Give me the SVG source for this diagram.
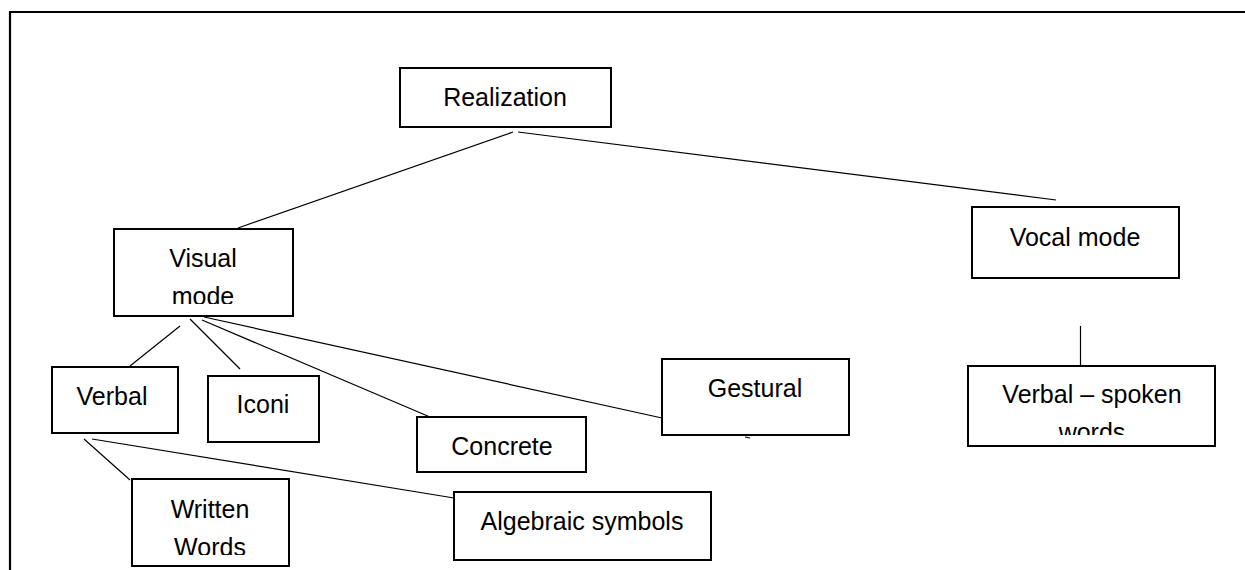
<svg xmlns="http://www.w3.org/2000/svg" width="1245" height="570" viewBox="0 0 1245 570">
  <style>
    .box { fill: #fff; stroke: #000; stroke-width: 2; }
    .lbl { font-family: "Liberation Sans", Arial, sans-serif; font-size: 25px; fill: #000; text-anchor: middle; }
    .con { stroke: #000; stroke-width: 1.2; fill: none; }
    .frame { stroke: #000; stroke-width: 2.2; fill: none; }
  </style>
  <defs>
    <clipPath id="clip-visual"><rect x="115" y="230" width="177" height="74"/></clipPath>
    <clipPath id="clip-written"><rect x="132" y="480" width="156" height="75"/></clipPath>
    <clipPath id="clip-spoken"><rect x="968" y="366" width="247" height="69"/></clipPath>
  </defs>

  <rect width="1245" height="570" fill="#fff"/>
  <!-- page frame (only left and top edges are in view) -->
  <path class="frame" d="M10 570 V12 H1245"/>

  <g id="connectors">
    <line class="con" x1="513" y1="132" x2="238" y2="228"/>
    <line class="con" x1="518" y1="132" x2="1056" y2="200"/>
    <line class="con" x1="1080.5" y1="326" x2="1080.5" y2="365"/>
    <line class="con" x1="180" y1="326" x2="130" y2="366"/>
    <line class="con" x1="190" y1="319" x2="240" y2="369"/>
    <line class="con" x1="202" y1="320" x2="430" y2="417"/>
    <line class="con" x1="204" y1="317" x2="662" y2="418"/>
    <line class="con" x1="745" y1="437" x2="750" y2="438"/>
    <line class="con" x1="84" y1="439" x2="130" y2="480"/>
    <line class="con" x1="92" y1="439" x2="454" y2="498"/>
  </g>

  <g id="realization">
    <rect class="box" x="400" y="68" width="211" height="59"/>
    <text class="lbl" x="505" y="106">Realization</text>
  </g>

  <g id="visual-mode">
    <rect class="box" x="114" y="229" width="179" height="87"/>
    <g clip-path="url(#clip-visual)">
      <text class="lbl" x="203" y="267">Visual</text>
      <text class="lbl" x="203" y="305">mode</text>
    </g>
  </g>

  <g id="vocal-mode">
    <rect class="box" x="972" y="207" width="207" height="71"/>
    <text class="lbl" x="1075" y="246">Vocal mode</text>
  </g>

  <g id="verbal">
    <rect class="box" x="52" y="367" width="126" height="66"/>
    <text class="lbl" x="112" y="405">Verbal</text>
  </g>

  <g id="iconi">
    <rect class="box" x="208" y="376" width="111" height="66"/>
    <text class="lbl" x="263" y="413">Iconi</text>
  </g>

  <g id="concrete">
    <rect class="box" x="417" y="417" width="169" height="55"/>
    <text class="lbl" x="502" y="455">Concrete</text>
  </g>

  <g id="gestural">
    <rect class="box" x="662" y="359" width="187" height="76"/>
    <text class="lbl" x="755" y="397">Gestural</text>
  </g>

  <g id="verbal-spoken">
    <rect class="box" x="968" y="366" width="247" height="80"/>
    <g clip-path="url(#clip-spoken)">
      <text class="lbl" x="1092" y="403">Verbal – spoken</text>
      <text class="lbl" x="1092" y="441">words</text>
    </g>
  </g>

  <g id="written-words">
    <rect class="box" x="132" y="479" width="157" height="87"/>
    <g clip-path="url(#clip-written)">
      <text class="lbl" x="210" y="518">Written</text>
      <text class="lbl" x="210" y="556">Words</text>
    </g>
  </g>

  <g id="algebraic-symbols">
    <rect class="box" x="454" y="492" width="257" height="68"/>
    <text class="lbl" x="582" y="530">Algebraic symbols</text>
  </g>
</svg>
